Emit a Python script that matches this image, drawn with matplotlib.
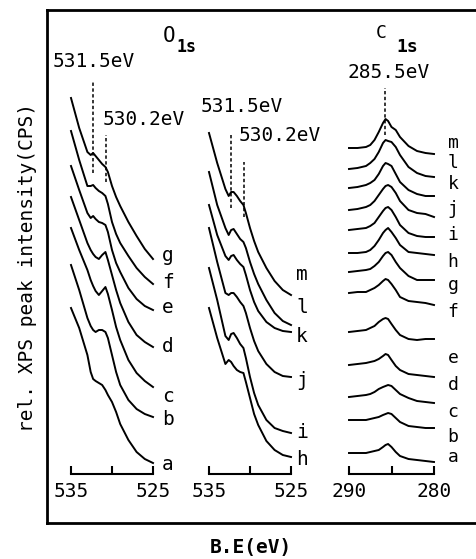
import matplotlib
matplotlib.use("Agg")
import matplotlib.pyplot as plt
import numpy as np

plt.rcParams['font.family'] = ['DejaVu Sans Mono', 'DejaVu Sans']

# ---------------- data ----------------
# O1s energy grid (eV)
o1s_energy = [535, 534, 533, 532.6, 532.3, 532.0, 531.6, 531.2, 530.8, 530.5,
              530.0, 529.5, 529.0, 528.0, 527.0, 526.0, 525.0]
# C1s energy grid (eV)
c1s_energy = [290, 289, 288, 287.5, 287, 286.5, 286, 285.7, 285.4, 285,
              284.5, 284, 283, 282, 281, 280]

# O1s left panel (samples a-g): stacking offsets and relative intensities
o1s_left_labels = ['a', 'b', 'c', 'd', 'e', 'f', 'g']
o1s_left_offsets = [60, 106, 136, 176, 213, 239, 264]
o1s_a = [155, 135, 108, 91, 84, 82, 80, 78, 73, 68, 61, 51, 39, 23, 11, 4, 0]
o1s_b = [152, 127, 99, 91, 87, 85, 87, 87, 85, 79, 62, 45, 32, 17, 8, 3, 0]
o1s_c = [159, 137, 117, 107, 101, 96, 92, 96, 100, 93, 77, 60, 47, 27, 14, 6, 0]
o1s_d = [150, 127, 104, 97, 93, 90, 88, 92, 95, 87, 72, 57, 44, 25, 12, 5, 0]
o1s_e = [144, 120, 97, 92, 94, 91, 88, 87, 85, 78, 60, 47, 38, 22, 11, 4, 0]
o1s_f = [153, 124, 98, 98, 99, 96, 93, 91, 88, 80, 62, 50, 41, 28, 16, 7, 0]
o1s_g = [161, 131, 107, 104, 106, 103, 99, 95, 92, 87, 73, 62, 53, 37, 23, 10, 0]

# O1s middle panel (samples h-m)
o1s_mid_labels = ['h', 'i', 'j', 'k', 'l', 'm']
o1s_mid_offsets = [66, 90, 146, 191, 198, 228]
o1s_h = [149, 119, 93, 97, 95, 91, 87, 85, 84, 75, 59, 43, 32, 16, 7, 2, 0]
o1s_i = [165, 133, 97, 93, 99, 100, 95, 89, 85, 75, 56, 40, 28, 13, 5, 2, 0]
o1s_j = [149, 115, 84, 82, 84, 84, 80, 75, 71, 64, 49, 36, 26, 13, 5, 1, 0]
o1s_k = [127, 97, 76, 72, 76, 77, 72, 68, 65, 57, 42, 30, 21, 10, 4, 1, 0]
o1s_l = [153, 120, 97, 90, 95, 96, 91, 86, 83, 77, 63, 51, 41, 25, 12, 4, 0]
o1s_m = [162, 132, 106, 99, 103, 103, 99, 94, 90, 82, 67, 54, 43, 27, 14, 5, 0]

# C1s panel (samples a-m)
c1s_labels = ['a', 'b', 'c', 'd', 'e', 'f', 'g', 'h', 'i', 'j', 'k', 'l', 'm']
c1s_offsets = [61, 95, 120, 146, 184, 218, 243, 268, 286, 306, 327, 346, 369]
c1s_a = [9, 9, 9, 10, 11, 12, 15, 17, 18, 15, 10, 6, 3, 2, 1, 0]
c1s_b = [8, 8, 8, 9, 10, 11, 13, 14, 15, 14, 10, 6, 2, 1, 0, 0]
c1s_c = [6, 7, 8, 9, 11, 14, 16, 17, 18, 17, 13, 9, 5, 2, 1, 0]
c1s_d = [12, 13, 14, 15, 16, 18, 21, 23, 22, 17, 11, 7, 3, 2, 1, 0]
c1s_e = [7, 8, 9, 11, 13, 17, 20, 21, 20, 15, 9, 4, 0, -1, 0, 0]
c1s_f = [12, 13, 13, 15, 17, 20, 24, 26, 25, 21, 15, 8, 4, 3, 2, 0]
c1s_g = [8, 9, 10, 11, 14, 18, 24, 27, 28, 25, 18, 12, 4, 0, 0, 0]
c1s_h = [2, 2, 3, 5, 9, 15, 22, 25, 27, 23, 17, 10, 3, 2, 1, 0]
c1s_i = [7, 8, 9, 11, 14, 20, 26, 29, 30, 27, 20, 12, 4, 1, 0, 0]
c1s_j = [7, 8, 10, 12, 16, 22, 28, 31, 32, 30, 24, 16, 7, 4, 3, 0]
c1s_k = [8, 9, 11, 13, 16, 22, 30, 33, 32, 30, 22, 14, 6, 2, 0, 0]
c1s_l = [8, 9, 11, 14, 18, 25, 34, 37, 36, 35, 30, 22, 10, 4, 1, 0]
c1s_m = [6, 6, 7, 9, 14, 22, 31, 35, 33, 27, 24, 17, 8, 3, 1, 0]

# reference lines (positions) and their labels
o1s_peak_lines = [532.3, 530.7]
o1s_peak_texts = ['531.5eV', '530.2eV']
c1s_peak_line = 285.8
c1s_peak_text = '285.5eV'

o1s_ticks = [535, 530, 525]
o1s_ticklabels = ['535', '', '525']
c1s_ticks = [290, 285, 280]
c1s_ticklabels = ['290', '', '280']

# ---------------- figure ----------------
W, H = 476, 559
fig = plt.figure(figsize=(W / 100, H / 100), dpi=100)


def fx(x):
    return x / W


def fy(y):
    return 1 - y / H


# outer frame (left, top, bottom lines)
frame = fig.add_axes([fx(47), fy(523), 1 - fx(47) + 0.02, 513 / H])
frame.set_xticks([])
frame.set_yticks([])
frame.patch.set_visible(False)
frame.spines['right'].set_visible(False)
for s in ['left', 'top', 'bottom']:
    frame.spines[s].set_linewidth(2.0)


def make_panel(left_px, right_px, xlim, ticks, ticklabels):
    ax = fig.add_axes([fx(left_px), fy(523), (right_px - left_px) / W, 513 / H])
    ax.set_xlim(*xlim)
    ax.set_ylim(0, 513)
    ax.patch.set_visible(False)
    for s in ['left', 'right', 'top']:
        ax.spines[s].set_visible(False)
    ax.spines['bottom'].set_position(('data', 49))
    ax.spines['bottom'].set_linewidth(1.5)
    ax.set_yticks([])
    ax.set_xticks(ticks)
    ax.set_xticklabels(ticklabels)
    ax.tick_params(axis='x', direction='in', length=6, width=1.5, pad=6,
                   labelsize=14)
    return ax


ax1 = make_panel(71, 153, (535, 525), o1s_ticks, o1s_ticklabels)
ax2 = make_panel(209, 291, (535, 525), o1s_ticks, o1s_ticklabels)
ax3 = make_panel(349, 434, (290, 280), c1s_ticks, c1s_ticklabels)

lw = 1.4
for off, ys in zip(o1s_left_offsets, [o1s_a, o1s_b, o1s_c, o1s_d, o1s_e, o1s_f, o1s_g]):
    ax1.plot(o1s_energy, off + np.array(ys), color='black', lw=lw, clip_on=False)
for off, ys in zip(o1s_mid_offsets, [o1s_h, o1s_i, o1s_j, o1s_k, o1s_l, o1s_m]):
    ax2.plot(o1s_energy, off + np.array(ys), color='black', lw=lw, clip_on=False)
for off, ys in zip(c1s_offsets, [c1s_a, c1s_b, c1s_c, c1s_d, c1s_e, c1s_f, c1s_g,
                                 c1s_h, c1s_i, c1s_j, c1s_k, c1s_l, c1s_m]):
    ax3.plot(c1s_energy, off + np.array(ys), color='black', lw=lw, clip_on=False)

dash = (0, (2.2, 1.6))
# panel 1 dashed markers
ax1.plot([o1s_peak_lines[0]] * 2, [350, 441], color='black', lw=1.1, ls=dash, clip_on=False)
ax1.plot([o1s_peak_lines[1]] * 2, [341, 388], color='black', lw=1.1, ls=dash, clip_on=False)
# panel 2 dashed markers
ax2.plot([o1s_peak_lines[0]] * 2, [315, 388], color='black', lw=1.1, ls=dash, clip_on=False)
ax2.plot([o1s_peak_lines[1]] * 2, [306, 361], color='black', lw=1.1, ls=dash, clip_on=False)
# panel 3 dashed marker
ax3.plot([c1s_peak_line] * 2, [388, 435], color='black', lw=1.1, ls=dash, clip_on=False)

# ---------------- text ----------------
fs = 14
fig.text(fx(94), fy(67), o1s_peak_texts[0], fontsize=fs, ha='center', va='baseline')
fig.text(fx(144), fy(125), o1s_peak_texts[1], fontsize=fs, ha='center', va='baseline')
fig.text(fx(242), fy(112), o1s_peak_texts[0], fontsize=fs, ha='center', va='baseline')
fig.text(fx(280), fy(141), o1s_peak_texts[1], fontsize=fs, ha='center', va='baseline')
fig.text(fx(389), fy(78), c1s_peak_text, fontsize=fs, ha='center', va='baseline')

fig.text(fx(169), fy(42), 'O', fontsize=15, ha='center', va='baseline')
fig.text(fx(187), fy(52), '1s', fontsize=12, ha='center', va='baseline', fontweight='bold')
fig.text(fx(381), fy(38), 'C', fontsize=13, ha='center', va='baseline')
fig.text(fx(407), fy(52), '1s', fontsize=13, ha='center', va='baseline', fontweight='bold')

left_label_base = [470, 425, 402, 352, 313, 288, 261]
for lab, yb in zip(o1s_left_labels, left_label_base):
    fig.text(fx(168), fy(yb), lab, fontsize=fs, ha='center', va='baseline')
mid_label_base = [465, 438, 386, 342, 313, 280]
for lab, yb in zip(o1s_mid_labels, mid_label_base):
    fig.text(fx(302), fy(yb), lab, fontsize=fs, ha='center', va='baseline')
c1s_label_base = [462, 442, 417, 390, 363, 317, 290, 267, 240, 214, 189, 168, 148]
for lab, yb in zip(c1s_labels, c1s_label_base):
    fig.text(fx(453), fy(yb), lab, fontsize=13, ha='center', va='baseline')

fig.text(fx(28), fy(268), 'rel. XPS peak intensity(CPS)', fontsize=14,
         rotation=90, ha='center', va='center')
fig.text(fx(251), fy(547), 'B.E(eV)', fontsize=14, fontweight='bold',
         ha='center', va='center')

fig.savefig('out.png', dpi=100)
